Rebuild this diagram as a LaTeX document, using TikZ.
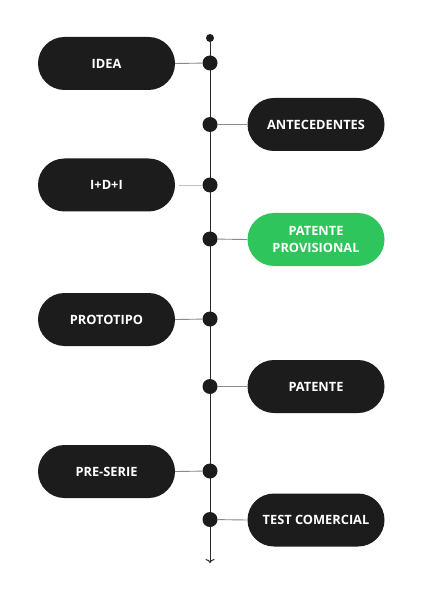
\documentclass[tikz,border=0pt]{standalone}
\usepackage{fontspec}
\setmainfont{Open Sans}[BoldFont={Open Sans Bold}]
\usetikzlibrary{arrows.meta}
\definecolor{pillblack}{HTML}{1C1C1C}
\definecolor{pillgreen}{HTML}{2FC55D}
\definecolor{axis}{HTML}{2A2A2A}
\definecolor{linkgray}{HTML}{8A8A8A}
\tikzset{
  pill/.style={rounded corners=26.5pt, fill=pillblack, minimum width=137pt, minimum height=53pt,
    inner sep=0pt, text=white, font=\bfseries\fontsize{12.8}{17.5}\selectfont, align=center},
  greenpill/.style={pill, fill=pillgreen},
  bigdot/.style={circle, fill=pillblack, minimum size=15pt, inner sep=0pt},
  smalldot/.style={circle, fill=pillblack, minimum size=8pt, inner sep=0pt},
  link/.style={draw=linkgray, line width=0.9pt},
  faintlink/.style={draw=linkgray!55, line width=0.9pt},
  axisline/.style={draw=axis, line width=1pt}
}
\begin{document}
\begin{tikzpicture}[x=1pt,y=-1pt]
\useasboundingbox[fill=white] (0,0) rectangle (421,593);
% axis
\node[smalldot] (top) at (210,38) {};
\coordinate (end) at (210,563);
\draw[axisline, -{To[length=4pt,width=9pt]}] (top) -- (end);
% pills
\node[pill] (idea) at (106.5,63.5) {IDEA};
\node[pill] (ante) at (316,124.5) {ANTECEDENTES};
\node[pill] (idi) at (106.5,185) {I+D+I};
\node[greenpill] (prov) at (316,239.5) {PATENTE\\PROVISIONAL};
\node[pill] (proto) at (106.5,319.5) {PROTOTIPO};
\node[pill] (pat) at (316,386.5) {PATENTE};
\node[pill] (pre) at (106.5,471.5) {PRE-SERIE};
\node[pill] (test) at (316,520) {TEST COMERCIAL};
% dots
\node[bigdot] (d1) at (210,63) {};
\node[bigdot] (d2) at (210,124.5) {};
\node[bigdot] (d3) at (210,185) {};
\node[bigdot] (d4) at (210,239) {};
\node[bigdot] (d5) at (210,319) {};
\node[bigdot] (d6) at (210,386.5) {};
\node[bigdot] (d7) at (210,471) {};
\node[bigdot] (d8) at (210,519.5) {};
% links
\draw[link] (idea.east) -- (d1);
\draw[link] (d2) -- (ante.west);
\draw[faintlink] ([xshift=4pt]idi.east) -- (d3);
\draw[link] (d4) -- (prov.west);
\draw[link] (proto.east) -- (d5);
\draw[link] (d6) -- (pat.west);
\draw[link] (pre.east) -- (d7);
\draw[link] (d8) -- (test.west);
\end{tikzpicture}
\end{document}
